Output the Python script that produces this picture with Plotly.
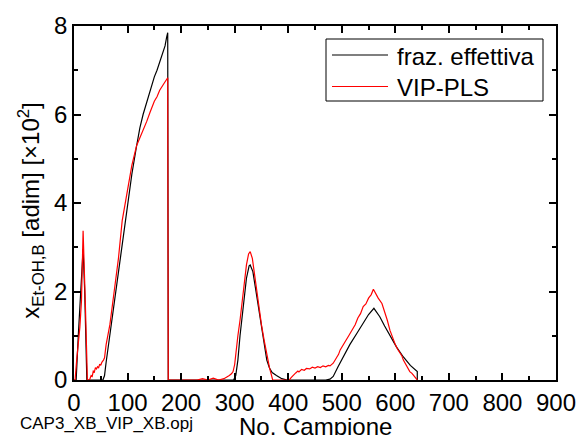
import plotly.graph_objects as go

# ---- data ----
black_x = [0, 4, 8, 13, 17, 20, 24, 54, 57, 60, 65, 70, 75, 80, 88, 95, 100, 108, 117, 123,
           129, 135, 142, 148, 150, 155, 160, 165, 170, 173, 175, 176,
           298, 302, 306, 310, 316, 322, 327, 329, 334, 340, 346, 352, 356, 360, 365, 370,
           378, 388, 398, 470, 478, 484, 493, 503, 515, 528, 540, 550, 560, 571, 580, 590,
           602, 615, 628, 641, 641]
black_y = [0, 0, 1.0, 2.2, 2.96, 2.0, 0, 0, 0.1, 0.4, 0.85, 1.3, 1.75, 2.2, 2.9, 3.6, 4.0, 4.65, 5.3, 5.7,
           6.0, 6.25, 6.5, 6.75, 6.85, 7.0, 7.2, 7.4, 7.55, 7.75, 7.85, 0,
           0, 0.1, 0.45, 1.0, 1.7, 2.3, 2.58, 2.6, 2.45, 2.0, 1.5, 1.05, 0.75, 0.45, 0.27, 0.17,
           0.1, 0.03, 0, 0, 0.02, 0.08, 0.3, 0.53, 0.8, 1.05, 1.3, 1.48, 1.62, 1.43, 1.22, 1.0,
           0.75, 0.52, 0.33, 0.19, 0]

red_x = [0, 2, 5, 8, 11, 14, 17, 21, 25, 29, 32, 34, 36, 38, 40, 42, 44, 46, 48, 50, 52, 55, 57,
         60, 67, 75, 83, 90, 100, 108, 117, 124, 130, 136, 142, 150, 155, 160, 168, 175, 176,
         230, 240, 250, 260, 270, 280, 285, 290, 294, 297, 300, 303, 306, 310, 316, 322, 326, 329,
         333, 338, 344, 350, 355, 360, 365, 371, 402, 405, 408, 410, 414, 418, 420, 425, 430, 434,
         440, 445, 450, 455, 460, 465, 470, 475, 478, 484, 490, 494, 497, 501, 505, 509, 513, 517,
         521, 525, 530, 535, 540, 545, 550, 555, 559, 563, 568, 575, 580, 585, 590, 596, 600, 604,
         608, 612, 615, 620, 624, 627, 631, 635, 638, 641]
red_y = [0, 0, 0.45, 0.83, 1.2, 1.8, 3.37, 1.8, 0, 0, 0.1, 0.08, 0.2, 0.18, 0.28, 0.25, 0.3, 0.28,
         0.36, 0.33, 0.4, 0.45, 0.5,
         0.8, 1.25, 2.0, 2.75, 3.6, 4.35, 4.85, 5.3, 5.5, 5.65, 5.85, 6.05, 6.3, 6.4, 6.55, 6.7, 6.83, 0,
         0, 0.03, 0, 0.04, 0, 0.03, 0.06, 0.1, 0.14, 0.19, 0.35, 0.7, 1.0, 1.35, 2.0, 2.6, 2.85, 2.9,
         2.75, 2.3, 1.7, 1.25, 0.9, 0.55, 0.28, 0, 0, 0.05, 0.09, 0.12, 0.16, 0.2, 0.18, 0.24, 0.22, 0.26,
         0.25, 0.29, 0.27, 0.3, 0.28, 0.32, 0.3, 0.33, 0.32, 0.38, 0.5, 0.58, 0.68, 0.75, 0.85, 0.92, 1.0, 1.08,
         1.17, 1.25, 1.4, 1.5, 1.66, 1.72, 1.85, 1.93, 2.05, 1.95, 1.85, 1.73, 1.55, 1.35, 1.12, 0.9, 0.8, 0.7,
         0.62, 0.55, 0.45, 0.35, 0.25, 0.19, 0.15, 0.08, 0.05, 0]

x_ticks = [0, 100, 200, 300, 400, 500, 600, 700, 800, 900]
y_ticks = [0, 2, 4, 6, 8]
series_names = ["fraz. effettiva", "VIP-PLS"]
series_colors = ["#000000", "#ff0000"]

FONT = "Liberation Sans, Arial, sans-serif"

# plot area in pixels (for placing the legend / labels in paper coordinates)
PL, PR, PT, PB = 74, 556, 26, 380
def px(xp):
    return (xp - PL) / (PR - PL)
def py(yp):
    return (PB - yp) / (PB - PT)

fig = go.Figure()
fig.add_trace(go.Scatter(x=black_x, y=black_y, mode="lines", name=series_names[0],
                         line=dict(color=series_colors[0], width=1.2), showlegend=False))
fig.add_trace(go.Scatter(x=red_x, y=red_y, mode="lines", name=series_names[1],
                         line=dict(color=series_colors[1], width=1.2), showlegend=False))

axis_common = dict(showline=True, linecolor="black", linewidth=1.5, mirror="ticks",
                   ticks="inside", ticklen=7, tickwidth=1.5, tickcolor="black",
                   showgrid=False, zeroline=False,
                   tickfont=dict(family=FONT, size=24, color="black"))

fig.update_xaxes(range=[0, 900], tickvals=x_ticks, ticktext=[str(v) for v in x_ticks],
                 minor=dict(ticks="inside", ticklen=4, tickwidth=1.5, tickcolor="black", dtick=50),
                 **axis_common)
fig.update_yaxes(range=[0, 8], tickvals=y_ticks, ticktext=[str(v) for v in y_ticks],
                 minor=dict(ticks="inside", ticklen=4, tickwidth=1.5, tickcolor="black", dtick=1),
                 **axis_common)

# legend drawn as a framed box with sample lines and text
shapes = [dict(type="rect", xref="paper", yref="paper",
               x0=px(326), x1=px(543), y0=py(101), y1=py(39),
               line=dict(color="black", width=1), fillcolor="white", layer="above")]
annotations = []
for i, (nm, col) in enumerate(zip(series_names, series_colors)):
    yy = 55 + i * 31.5
    shapes.append(dict(type="line", xref="paper", yref="paper",
                       x0=px(332), x1=px(388), y0=py(yy), y1=py(yy),
                       line=dict(color=col, width=1.2), layer="above"))
    annotations.append(dict(text=nm, xref="paper", yref="paper", x=px(395), y=py(yy + 1),
                            xanchor="left", yanchor="middle", showarrow=False,
                            font=dict(family=FONT, size=24, color="black")))

annotations += [
    dict(text="x<sub>Et-OH,B</sub> [adim] [×10<sup>2</sup>]", textangle=-90,
         xref="paper", yref="paper", x=px(31), y=0.478,
         xanchor="center", yanchor="middle", showarrow=False,
         font=dict(family=FONT, size=24, color="black")),
    dict(text="No. Campione", xref="paper", yref="paper",
         x=0.5, y=py(426), xanchor="center", yanchor="middle",
         showarrow=False, font=dict(family=FONT, size=24, color="black")),
    dict(text="CAP3_XB_VIP_XB.opj", xref="paper", yref="paper",
         x=px(106), y=py(423), xanchor="center", yanchor="middle",
         showarrow=False, font=dict(family=FONT, size=17, color="black")),
]

fig.update_layout(
    width=578, height=435,
    margin=dict(l=PL, r=578 - PR, t=PT, b=435 - PB, autoexpand=False),
    paper_bgcolor="white", plot_bgcolor="white",
    font=dict(family=FONT, color="black"),
    showlegend=False,
    shapes=shapes,
    annotations=annotations,
)

fig.write_html("out.html")
